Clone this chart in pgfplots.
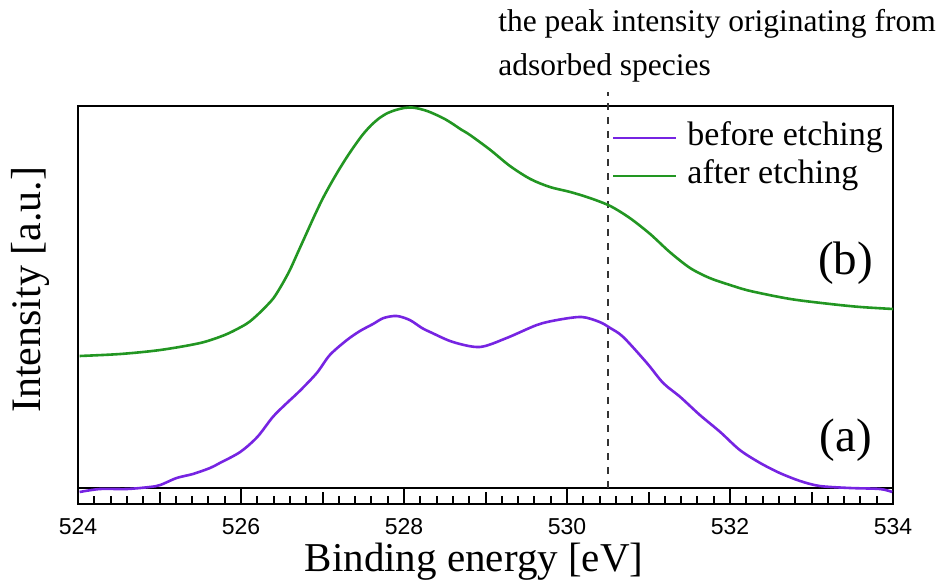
\documentclass[border=0pt]{standalone}
\usepackage{pgfplots}
\usepackage{pgfplotstable}
\pgfplotsset{compat=1.18}
\usepackage{fontspec}
\setmainfont{Liberation Serif}
\newfontfamily\tickfont{Liberation Sans}
\definecolor{beforecol}{RGB}{118,36,226}
\definecolor{aftercol}{RGB}{34,150,34}

% O 1s spectra, intensity above the baseline (a.u.)
\pgfplotstableread{
x y
524.02 -4
524.27 -1
524.60 -1
524.88 1
525.01 3
525.21 10
525.41 14
525.62 20
525.74 25
525.99 36
526.20 51
526.39 71
526.55 84
526.72 97
526.93 115
527.09 133
527.30 148
527.46 157
527.62 164
527.75 170
527.91 172
528.07 168
528.22 160
528.32 156
528.60 146
528.93 141
529.26 150
529.63 163
529.88 168
530.18 171
530.40 166
530.53 160
530.69 151
530.98 125
531.18 105
531.39 91
531.63 73
531.88 56
532.12 38
532.37 25
532.61 15
532.86 7
533.10 2
533.47 0
533.84 -1
533.99 -4
}\beforetab

\pgfplotstableread{
x y
524.02 132
524.52 134
525.01 138
525.50 145
525.80 153
526.00 161
526.10 166
526.20 173
526.30 181
526.40 190
526.50 203
526.60 218
526.70 236
526.80 254
526.90 272
527.00 289
527.10 304
527.20 318
527.30 331
527.40 343
527.50 354
527.60 363
527.70 370
527.80 375
527.90 378
528.00 380
528.10 380.5
528.20 379
528.30 376.5
528.40 373
528.50 369
528.60 364
528.70 358.5
528.81 353
529.06 338
529.30 322
529.55 309
529.79 301
530.04 296
530.28 290
530.53 282
530.77 270
531.02 254
531.26 236
531.51 220
531.75 210
532.00 203
532.25 197
532.74 189
533.23 184
533.60 181
534.00 179
}\aftertab

\begin{document}
\begin{tikzpicture}
\begin{axis}[
  scale only axis, width=407.5pt, height=199pt,
  xmin=524, xmax=534, ymin=-16, ymax=382,
  clip=false,
  axis line style={line width=1.2pt},
  xtick={524,526,...,534},
  minor x tick num=9,
  extra x ticks={525,527,529,531,533},
  extra x tick labels={},
  extra x tick style={major tick length=6pt},
  ytick=\empty,
  tick align=inside,
  xtick pos=bottom,
  major tick length=8pt, minor tick length=4pt,
  every tick/.style={black, line width=1pt},
  xticklabel style={font=\tickfont\fontsize{11.5}{13}\selectfont, inner sep=0pt, yshift=-7pt},
  /pgf/number format/assume math mode=true,
  /pgf/number format/1000 sep={},
  legend cell align=left,
  legend image code/.code={\draw[#1] (0pt,0pt) -- (31.5pt,0pt);},
  legend style={at={(axis description cs:0.655,0.96)}, anchor=north west,
    draw=none, fill=none, inner sep=0pt, outer sep=0pt,
    font=\fontsize{17}{19}\selectfont, row sep=3pt, column sep=5pt,
    nodes={inner sep=0pt, text height=12pt, text depth=4pt}},
]
% baseline of the spectra
\addplot[black, line width=0.9pt, forget plot] coordinates {(524,0) (534,0)};
% position of the adsorbed-species component
\addplot[black!80, line width=1.2pt, dash pattern=on 3.5pt off 3.5pt, forget plot]
  coordinates {(530.5,0) (530.5,396)};
\addplot[beforecol, line width=1.3pt, smooth, tension=0.5] table[x=x, y=y] {\beforetab};
\addlegendentry{before etching}
\addplot[aftercol, line width=1.3pt, smooth, tension=0.5] table[x=x, y=y] {\aftertab};
\addlegendentry{after etching}

\node[anchor=base west, inner sep=0pt, font=\fontsize{15.75}{18}\selectfont]
  at (axis cs:529.153,456) {the peak intensity originating from};
\node[anchor=base west, inner sep=0pt, font=\fontsize{15.75}{18}\selectfont]
  at (axis cs:529.153,412) {adsorbed species};
\node[font=\fontsize{23.5}{28}\selectfont, inner sep=0pt] at (axis cs:533.42,225) {(b)};
\node[font=\fontsize{23.5}{28}\selectfont, inner sep=0pt] at (axis cs:533.42,48) {(a)};

\node[anchor=base, inner sep=0pt, text height=0.64em, font=\fontsize{20.5}{24}\selectfont]
  at ([yshift=-34pt]axis description cs:0.486,0) {Binding energy [eV]};
\node[anchor=base, rotate=90, inner sep=0pt, font=\fontsize{21}{24}\selectfont]
  at ([xshift=-18.5pt]axis description cs:0,0.538) {Intensity [a.u.]};
\end{axis}
\pgfresetboundingbox
\path[use as bounding box] ([xshift=-39pt,yshift=-39.5pt]current axis.south west)
  rectangle ([xshift=24.5pt,yshift=53pt]current axis.north east);
\end{tikzpicture}
\end{document}
